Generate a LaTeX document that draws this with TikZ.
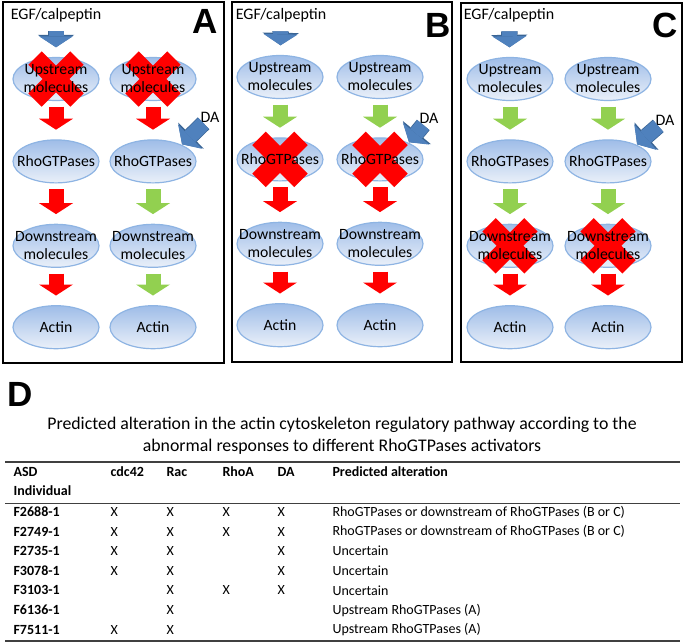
\documentclass[tikz,border=0pt]{standalone}
\usepackage{fontspec}
\setmainfont{Carlito}
\newfontfamily\panelfont{Liberation Sans}
\usetikzlibrary{arrows.meta,positioning,shapes.geometric}
\definecolor{pwred}{HTML}{FF0000}
\definecolor{pwgreen}{HTML}{92D050}
\definecolor{pwblue}{HTML}{4F81BD}
\definecolor{pwblueline}{HTML}{3A6595}
\definecolor{elltop}{HTML}{9FBDE8}
\definecolor{ellbot}{HTML}{EAF0F9}
\definecolor{ellline}{HTML}{8EB4E3}
\definecolor{rulegray}{HTML}{404040}
\pgfdeclarelayer{back}
\pgfdeclarelayer{mid}
\pgfsetlayers{back,mid,main}

\begin{document}
\begin{tikzpicture}[x=1pt,y=-1pt,
  mol/.style={ellipse,minimum width=86pt,minimum height=43pt,inner xsep=-10pt,inner ysep=-2pt,
    align=center,font=\fontsize{15.7}{18}\selectfont},
  ellbg/.style={top color=elltop,bottom color=ellbot,draw=ellline,line width=1.2pt},
  lab/.style={font=\fontsize{16}{18}\selectfont},
  blk/.style={line width=15pt,-{Triangle[width=34pt,length=11pt,line width=0pt]},
    shorten <=6pt,shorten >=10pt},
  blublk/.style={blk,pwblue,preaction={draw=pwblueline,line width=16.5pt,
    -{Triangle[width=36.5pt,length=12.5pt,line width=0pt]}}},
  hit/.style={pwred,line width=19pt},
  panel/.style={draw=black,line width=2pt},
  letter/.style={font=\panelfont\bfseries\fontsize{35}{35}\selectfont},
  th/.style={anchor=west,font=\bfseries\fontsize{14}{16}\selectfont},
  td/.style={anchor=west,font=\fontsize{14}{16}\selectfont}]
  \useasboundingbox (0,0) rectangle (685,643);

  % panels A, B, C
  \draw[panel] (3,2) rectangle (224,363);
  \draw[panel] (232,2) rectangle (452,362);
  \draw[panel] (461,3) rectangle (682,362);
  \node[letter] (letA) at (205,21) {A};
  \node[letter] (letB) at (438,25) {B};
  \node[letter] (letC) at (665,25) {C};

  \foreach \p/\xl/\xr/\yt/\ex/\dx/\dy/\ca/\cb/\cc/\cd/\ce/\cf in {
      A/56/153/79/56/210/117/pwred/pwred/pwred/pwred/pwgreen/pwgreen,
      B/280/380/77/281/429/118/pwgreen/pwred/pwred/pwgreen/pwred/pwred,
      C/510/608/79/509/665/120/pwgreen/pwgreen/pwred/pwgreen/pwgreen/pwred}{
    \node[lab] (egf\p) at (\ex,15) {EGF/calpeptin};
    \node[mol] (up\p1) at (\xl,\yt) {Upstream\\molecules};
    \node[mol,below=39pt of up\p1] (rho\p1) {RhoGTPases};
    \node[mol,below=41pt of rho\p1] (dn\p1) {Downstream\\molecules};
    \node[mol,below=38pt of dn\p1] (act\p1) {Actin};
    \node[mol] (up\p2) at (\xr,\yt) {Upstream\\molecules};
    \node[mol,below=39pt of up\p2] (rho\p2) {RhoGTPases};
    \node[mol,below=41pt of rho\p2] (dn\p2) {Downstream\\molecules};
    \node[mol,below=38pt of dn\p2] (act\p2) {Actin};
    \node[lab] (da\p) at (\dx,\dy) {DA};
    \draw[blublk] (egf\p) -- (up\p1);
    \draw[blublk,shorten <=9pt,shorten >=1pt] (da\p.center) -- (rho\p2.30);
    \draw[blk,\ca] (up\p1) -- (rho\p1);
    \draw[blk,\cb] (rho\p1) -- (dn\p1);
    \draw[blk,\cc] (dn\p1) -- (act\p1);
    \draw[blk,\cd] (up\p2) -- (rho\p2);
    \draw[blk,\ce] (rho\p2) -- (dn\p2);
    \draw[blk,\cf] (dn\p2) -- (act\p2);
  }

  \begin{pgfonlayer}{back}
    \foreach \p in {A,B,C}
      \foreach \n in {up,rho,dn,act}
        \foreach \k in {1,2}
          \path[ellbg] (\n\p\k) ellipse [x radius=43,y radius=21.5];
  \end{pgfonlayer}

  % blocked steps
  \begin{pgfonlayer}{mid}
    \foreach \n in {upA1,upA2,rhoB1,rhoB2,dnC1,dnC2}
      \draw[hit] ([shift={(-21,-21)}]\n.center) -- ([shift={(21,21)}]\n.center)
        ([shift={(-21,21)}]\n.center) -- ([shift={(21,-21)}]\n.center);
  \end{pgfonlayer}

  % panel D
  \node[letter] (letD) at (20,394) {D};
  \node[align=center,font=\fontsize{17.8}{22}\selectfont] (title) at (342,436)
    {Predicted alteration in the actin cytoskeleton regulatory pathway according to the\\
     abnormal responses to different RhoGTPases activators};
  \draw[rulegray,line width=1.6pt] (5,462) -- (680,462);
  \draw[rulegray,line width=1pt] (5,503) -- (680,503);
  \draw[rulegray,line width=1.6pt] (5,641) -- (680,641);
  \node[th] (hasd) at (10,472) {ASD};
  \node[th] (hind) at (10,491) {Individual};
  \node[th] (hcdc) at (107,472) {cdc42};
  \node[th] (hrac) at (163,472) {Rac};
  \node[th] (hrhoa) at (219,472) {RhoA};
  \node[th] (hda) at (274,472) {DA};
  \node[th] (hpred) at (329,472) {Predicted alteration};
  \foreach \id/\kc/\kr/\kh/\kd/\txt [count=\i] in {
      F2688-1/X/X/X/X/RhoGTPases or downstream of RhoGTPases (B or C),
      F2749-1/X/X/X/X/RhoGTPases or downstream of RhoGTPases (B or C),
      F2735-1/X/X//X/Uncertain,
      F3078-1/X/X//X/Uncertain,
      F3103-1//X/X/X/Uncertain,
      F6136-1//X///Upstream RhoGTPases (A),
      F7511-1/X/X///Upstream RhoGTPases (A)}{
    \pgfmathsetmacro\ry{492.4+19.6*\i}
    \node[th] (id\i) at (10,\ry) {\id};
    \node[td] (cdc\i) at (107,\ry) {\kc};
    \node[td] (rac\i) at (163,\ry) {\kr};
    \node[td] (rhoa\i) at (219,\ry) {\kh};
    \node[td] (da\i) at (274,\ry) {\kd};
    \node[td] (pred\i) at (329,\ry) {\txt};
  }
\end{tikzpicture}
\end{document}
